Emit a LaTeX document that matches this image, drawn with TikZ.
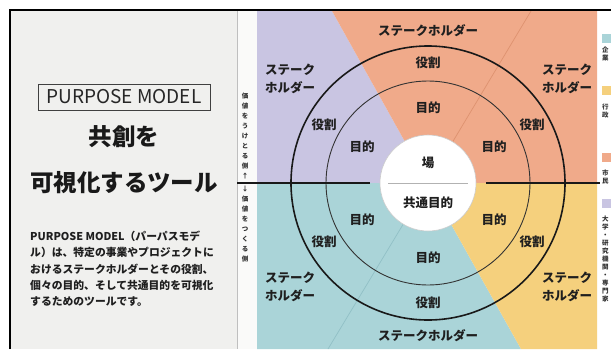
\documentclass[tikz,border=0pt]{standalone}
\usepackage{fontspec}
\setmainfont{Noto Sans CJK JP}
\definecolor{panelgray}{RGB}{240,240,238}
\definecolor{stripw}{RGB}{250,250,249}
\definecolor{purp}{RGB}{201,197,226}
\definecolor{oran}{RGB}{240,170,138}
\definecolor{tealc}{RGB}{170,212,216}
\definecolor{yell}{RGB}{245,208,125}
\definecolor{orand}{RGB}{222,146,112}
\definecolor{teald}{RGB}{145,192,198}
\tikzset{
  lab/.style={font=\fontsize{12.5}{18}\selectfont\bfseries, inner sep=0pt, text=black!88},
  stake/.style={lab, align=left, anchor=west},
  vtext/.style={font=\fontsize{6.5}{10}\selectfont\bfseries, inner sep=0pt, align=center, text=black!80},
  legt/.style={font=\fontsize{6.5}{8}\selectfont\bfseries, inner sep=0pt, align=center, anchor=north west, text=black!80},
  para/.style={font=\fontsize{10.8}{12}\selectfont\bfseries, inner sep=0pt, anchor=west, text=black!88},
  title/.style={font=\fontsize{23.5}{26}\selectfont\bfseries, inner sep=0pt, text=black!90},
}
\begin{document}
\begin{tikzpicture}[x=1pt,y=-1pt]
\useasboundingbox (0,0) rectangle (611,349);
\fill[white] (0,0) rectangle (611,349);
\fill[panelgray] (10,10) rectangle (237,349);
\fill[stripw] (237,10) rectangle (257,349);
\draw[black!25, line width=0.5pt] (237,10) -- (237,349);
\coordinate (c) at (428,183);
% quadrants
\fill[purp] (257,11) -- (332,11) -- (c) -- (257,183) -- cycle;
\fill[oran] (332,11) -- (597,11) -- (597,183) -- (c) -- cycle;
\fill[tealc] (257,183) -- (c) -- (521,349) -- (257,349) -- cycle;
\fill[yell] (c) -- (597,183) -- (597,349) -- (521,349) -- cycle;
\draw[orand, line width=0.7pt] (c) -- (531,11);
\draw[teald, line width=0.7pt] (c) -- (328,349);
% circles
\draw[black!80, line width=0.9pt] (c) circle[radius=102pt];
\draw[black!90, line width=1.6pt] (c) circle[radius=137pt];
\node[circle, fill=white, draw=black!20, line width=0.6pt, minimum size=96pt, inner sep=0pt] (ba) at (c) {};
\draw[black!30, line width=0.6pt] (388,183) -- (468,183);
% horizontal lines
\draw[black!90, line width=1.2pt] (237,183) -- (370,183);
\draw[black!90, line width=1.2pt] (486,183) -- (600,183);
% frame
\draw[black, line width=1.5pt] (10,349) -- (10,10) -- (611,10);
% left panel
\node[draw=black!75, line width=0.9pt, minimum width=172pt, minimum height=26pt, inner sep=0pt,
  font=\fontsize{19}{22}\selectfont, text=black!85] (pm) at (124,97) {PURPOSE MODEL};
\node[title] (t1) at (124,137) {共創を};
\node[title] (t2) at (124,183) {可視化するツール};
\node[para] (p1) at (30,236) {PURPOSE MODEL（パーパスモデ};
\node[para] (p2) at (30,252.5) {ル）は、特定の事業やプロジェクトに};
\node[para] (p3) at (30,269) {おけるステークホルダーとその役割、};
\node[para] (p4) at (30,285.5) {個々の目的、そして共通目的を可視化};
\node[para] (p5) at (30,302) {するためのツールです。};
% vertical strip text
\node[vtext, anchor=north] (vu) at (245,93) {価\\値\\を\\う\\け\\と\\る\\側\\↑};
\node[vtext, anchor=north] (vd) at (245,186) {↓\\価\\値\\を\\つ\\く\\る\\側};
% stakeholder labels
\node[lab] (sT) at (428,31) {ステークホルダー};
\node[lab] (sB) at (428,336) {ステークホルダー};
\node[stake] (sUL) at (265,79) {ステーク\\ホルダー};
\node[stake] (sUR) at (542,79) {ステーク\\ホルダー};
\node[stake] (sLL) at (265,287) {ステーク\\ホルダー};
\node[stake] (sLR) at (542,287) {ステーク\\ホルダー};
% roles
\node[lab] (rT) at (428,63) {役割};
\node[lab] (rUL) at (324,125) {役割};
\node[lab] (rUR) at (532,125) {役割};
\node[lab] (rLL) at (324,242) {役割};
\node[lab] (rLR) at (532,242) {役割};
\node[lab] (rB) at (428,303) {役割};
% purposes
\node[lab] (gT) at (428,108) {目的};
\node[lab] (gUL) at (362,147) {目的};
\node[lab] (gUR) at (494,147) {目的};
\node[lab] (gLL) at (362,220) {目的};
\node[lab] (gLR) at (494,220) {目的};
\node[lab] (gB) at (428,258) {目的};
% center
\node[lab] (ba1) at (428,163) {場};
\node[lab] (ba2) at (428,203) {共通目的};
% legend
\begin{scope}
\clip (597,11) rectangle (611,349);
\fill[tealc] (602,34) rectangle (614,43);
\fill[yell] (602,86) rectangle (614,95);
\fill[oran] (602,153) rectangle (614,162);
\fill[purp] (602,199) rectangle (614,208);
\node[legt] (l1) at (602,47) {企\\業};
\node[legt] (l2) at (602,104) {行\\政};
\node[legt] (l3) at (602,170) {市\\民};
\node[legt] (l4) at (602,216) {大\\学\\・\\研\\究\\機\\関\\・\\専\\門\\家};
\end{scope}
\end{tikzpicture}
\end{document}
